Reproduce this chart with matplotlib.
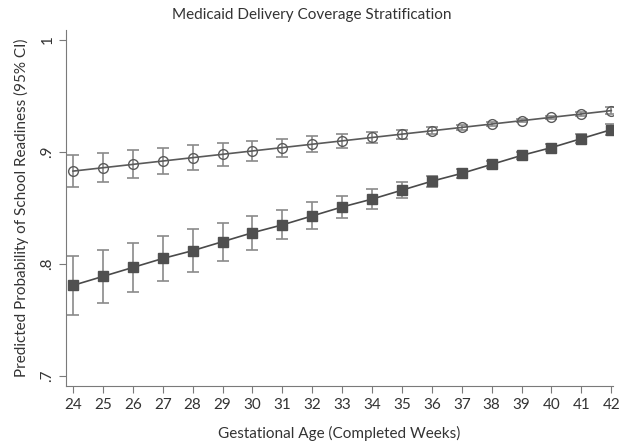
import numpy as np
import matplotlib.pyplot as plt

plt.rcParams['font.family'] = ['Lato', 'DejaVu Sans']

weeks = list(range(24, 43))

# Medicaid-covered delivery: open circles
open_mean = [0.883, 0.886, 0.889, 0.892, 0.895, 0.898, 0.901, 0.904, 0.907, 0.910,
             0.913, 0.916, 0.919, 0.922, 0.925, 0.928, 0.931, 0.934, 0.937]
open_err = [0.014, 0.013, 0.0125, 0.012, 0.011, 0.010, 0.009, 0.008, 0.007, 0.006,
            0.005, 0.004, 0.003, 0.002, 0.002, 0.0015, 0.0015, 0.002, 0.003]

# filled squares
sq_mean = [0.781, 0.789, 0.797, 0.805, 0.812, 0.820, 0.828, 0.835, 0.843, 0.851,
           0.858, 0.866, 0.874, 0.881, 0.889, 0.897, 0.904, 0.912, 0.920]
sq_err = [0.026, 0.024, 0.022, 0.020, 0.019, 0.017, 0.015, 0.013, 0.012, 0.010,
          0.009, 0.007, 0.005, 0.004, 0.003, 0.003, 0.003, 0.004, 0.005]

fig = plt.figure(figsize=(6.24, 4.47), dpi=100)
ax = fig.add_axes([0.106, 0.136, 0.876, 0.797])

ax.errorbar(weeks, open_mean, yerr=open_err, fmt='none', ecolor='#8a8a8a',
            elinewidth=1.2, capsize=4, capthick=1.2, zorder=2)
ax.plot(weeks, open_mean, color='#5a5a5a', lw=1.2, marker='o', ms=7,
        mfc='none', mec='#5a5a5a', mew=1.0, zorder=3)

ax.errorbar(weeks, sq_mean, yerr=sq_err, fmt='none', ecolor='#8a8a8a',
            elinewidth=1.2, capsize=4, capthick=1.2, zorder=2)
ax.plot(weeks, sq_mean, color='#4a4a4a', lw=1.2, marker='s', ms=7,
        mfc='#505050', mec='#505050', zorder=3)

ax.set_xlim(23.77, 42.05)
ax.set_ylim(0.691, 1.009)
ax.set_xticks(weeks)
ax.set_yticks([0.7, 0.8, 0.9, 1.0])
ax.set_yticklabels(['.7', '.8', '.9', '1'], rotation=90, va='center')

for s in ['top', 'right']:
    ax.spines[s].set_visible(False)
for s in ['left', 'bottom']:
    ax.spines[s].set_color('#7a7a7a')
ax.tick_params(colors='#7a7a7a', labelcolor='#333333', labelsize=11, length=5)

ax.set_xlabel('Gestational Age (Completed Weeks)', fontsize=11, color='#333333', labelpad=10)
ax.set_ylabel('Predicted Probability of School Readiness (95% CI)', fontsize=11,
              color='#333333', labelpad=8)
fig.suptitle('Medicaid Delivery Coverage Stratification', fontsize=11,
             color='#333333', y=0.982)

fig.savefig('out.png', dpi=100)
